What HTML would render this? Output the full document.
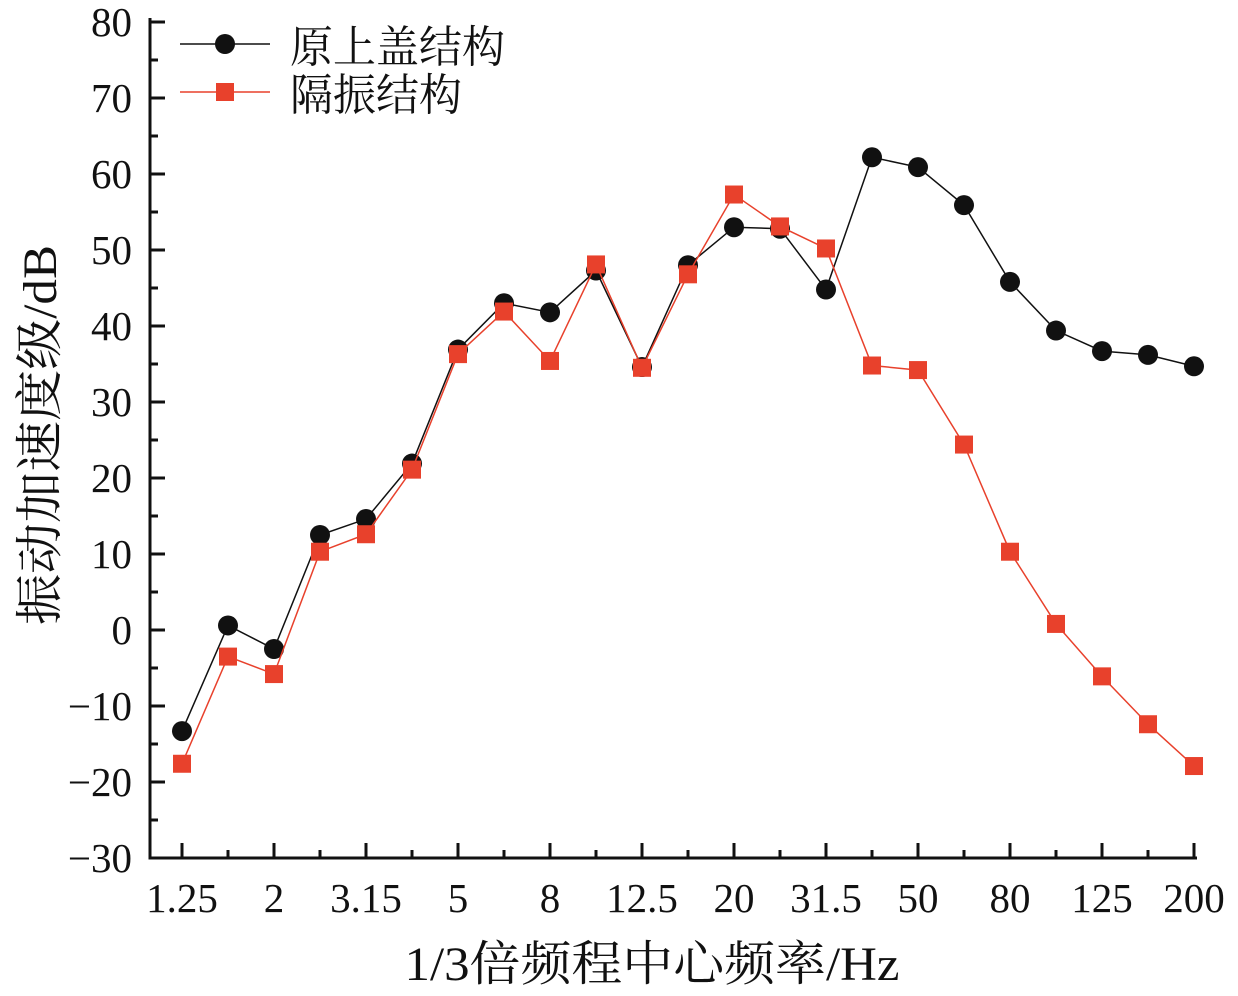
<!DOCTYPE html>
<html><head><meta charset="utf-8"><style>
html,body{margin:0;padding:0;background:#fff;}
svg{display:block;font-family:"Liberation Serif","Noto Serif CJK SC",serif;}
</style></head><body>
<svg id="chart" width="1238" height="996" viewBox="0 0 1238 996" xmlns="http://www.w3.org/2000/svg"></svg>
<script>
const categories=["1.25","1.6","2","2.5","3.15","4","5","6.3","8","10","12.5","16","20","25","31.5","40","50","63","80","100","125","160","200"];
const originalValues=[-13.3,0.6,-2.5,12.5,14.6,21.9,36.9,43.0,41.8,47.3,34.6,48.0,53.0,52.8,44.8,62.2,60.9,55.9,45.8,39.4,36.7,36.2,34.7];
const isolatedValues=[-17.6,-3.5,-5.8,10.3,12.6,21.1,36.3,41.9,35.4,48.1,34.5,46.8,57.3,53.1,50.2,34.8,34.2,24.4,10.3,0.8,-6.1,-12.4,-17.9];
const yTicks=[-30,-20,-10,0,10,20,30,40,50,60,70,80];
const NS="http://www.w3.org/2000/svg";
const svg=document.getElementById('chart');
const L=150,R=1197,T=22,B=858;
function x(i){return 182+i*46;}
function y(v){return B-(v+30)*(B-T)/110;}
function el(tag,attrs,parent){const e=document.createElementNS(NS,tag);for(const k in attrs)e.setAttribute(k,attrs[k]);(parent||svg).appendChild(e);return e;}
const ax=el('path',{d:`M${L},${T-4} L${L},${B} L${R},${B}`,stroke:'#111',fill:'none','stroke-width':3});


yTicks.forEach((v,k)=>{
  const t=el('line',{x1:L,x2:L+15,y1:y(v),y2:y(v),stroke:'#111','stroke-width':3});
  
  
  if(k<yTicks.length-1){const m=el('line',{x1:L,x2:L+8,y1:y(v+5),y2:y(v+5),stroke:'#111','stroke-width':3});
  
  }
  const lb=el('text',{x:L-18,y:y(v)+14,'text-anchor':'end','font-size':41,fill:'#111'});
  lb.textContent=v<0?'\u2212'+Math.abs(v):String(v);
  
  
});
categories.forEach((c,i)=>{
  const major=i%2===0;
  const t=el('line',{x1:x(i),x2:x(i),y1:B,y2:B-(major?15:8),stroke:'#111','stroke-width':3});
  
  
  if(major){const lb=el('text',{x:x(i),y:B+54,'text-anchor':'middle','font-size':41,fill:'#111'});
  lb.textContent=c;
  
  }
});
const xt=el('text',{x:652,y:980,'text-anchor':'middle','font-size':48,fill:'#111',textLength:495,lengthAdjust:'spacingAndGlyphs'});
xt.textContent='1/3倍频程中心频率/Hz';


const yt=el('text',{x:0,y:0,'text-anchor':'middle','font-size':48,fill:'#111',transform:'translate(56,435) rotate(-90)',textLength:380,lengthAdjust:'spacingAndGlyphs'});
yt.textContent='振动加速度级/dB';


function series(vals,color,shape,name){
  const g=el('g',{});
  
  
  el('polyline',{points:vals.map((v,i)=>x(i)+','+y(v)).join(' '),fill:'none',stroke:color,'stroke-width':1.5},g);
  vals.forEach((v,i)=>{
    let m;
    if(shape==='circle')m=el('circle',{cx:x(i),cy:y(v),r:10,fill:color},g);
    else m=el('rect',{x:x(i)-9,y:y(v)-9,width:18,height:18,fill:color},g);
    
    
  });
}
series(originalValues,'#111','circle','series-original');
series(isolatedValues,'#e8412c','square','series-isolated');
const lg=el('g',{});


el('line',{x1:180,x2:270,y1:44,y2:44,stroke:'#111','stroke-width':1.5},lg);
el('circle',{cx:225,cy:44,r:10,fill:'#111'},lg);
const l1=el('text',{x:290,y:62,'font-size':44,fill:'#111',textLength:215,lengthAdjust:'spacingAndGlyphs'},lg);l1.textContent='原上盖结构';


el('line',{x1:180,x2:270,y1:92,y2:92,stroke:'#e8412c','stroke-width':1.5},lg);
el('rect',{x:216,y:83,width:18,height:18,fill:'#e8412c'},lg);
const l2=el('text',{x:290,y:110,'font-size':44,fill:'#111',textLength:172,lengthAdjust:'spacingAndGlyphs'},lg);l2.textContent='隔振结构';


</script>
</body></html>
